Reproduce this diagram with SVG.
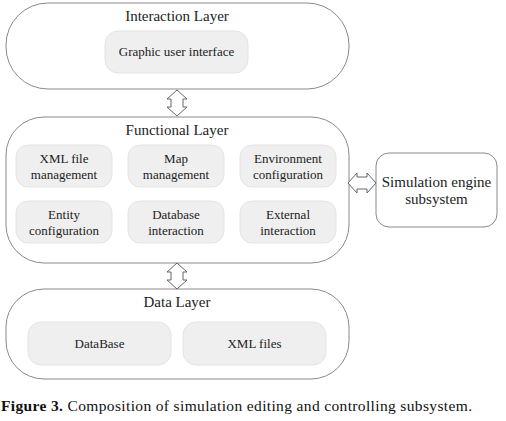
<svg xmlns="http://www.w3.org/2000/svg" width="506" height="421" viewBox="0 0 506 421">
<style>
.layer{fill:#fff;stroke:#8a8a8a;stroke-width:1}
.inner{fill:#efefef;stroke:#e4e4e4;stroke-width:1}
.ext{fill:#fff;stroke:#8a8a8a;stroke-width:1}
.t{font-family:"Liberation Serif","Times New Roman",serif;fill:#222;text-anchor:middle}
.title{font-size:15px}
.lbl{font-size:13px}
.arr{fill:#fff;stroke:#666;stroke-width:1}
.cap{font-family:"Liberation Serif","Times New Roman",serif;font-size:15.5px;fill:#111}
</style>
<rect width="506" height="421" fill="#fff"/>
<g id="interaction-layer">
<rect class="layer" x="6" y="3" width="343" height="86" rx="42" ry="42"/>
<text class="t title" x="177" y="21">Interaction Layer</text>
</g>
<g id="gui">
<rect class="inner" x="105" y="31" width="143" height="42" rx="13"/>
<text class="t lbl" x="176.5" y="56">Graphic user interface</text>
</g>
<g id="functional-layer">
<rect class="layer" x="6" y="117" width="343" height="146" rx="38" ry="38"/>
<text class="t title" x="177" y="135">Functional Layer</text>
</g>
<g id="xml-file-management">
<rect class="inner" x="16" y="145" width="96" height="42" rx="12"/>
<text class="t lbl" x="64" y="163">XML file</text>
<text class="t lbl" x="64" y="179">management</text>
</g>
<g id="map-management">
<rect class="inner" x="128" y="145" width="96" height="42" rx="12"/>
<text class="t lbl" x="176" y="163">Map</text>
<text class="t lbl" x="176" y="179">management</text>
</g>
<g id="environment-configuration">
<rect class="inner" x="240" y="145" width="96" height="42" rx="12"/>
<text class="t lbl" x="288" y="163">Environment</text>
<text class="t lbl" x="288" y="179">configuration</text>
</g>
<g id="entity-configuration">
<rect class="inner" x="16" y="201" width="96" height="42" rx="12"/>
<text class="t lbl" x="64" y="219">Entity</text>
<text class="t lbl" x="64" y="235">configuration</text>
</g>
<g id="database-interaction">
<rect class="inner" x="128" y="201" width="96" height="42" rx="12"/>
<text class="t lbl" x="176" y="219">Database</text>
<text class="t lbl" x="176" y="235">interaction</text>
</g>
<g id="external-interaction">
<rect class="inner" x="240" y="201" width="96" height="42" rx="12"/>
<text class="t lbl" x="288" y="219">External</text>
<text class="t lbl" x="288" y="235">interaction</text>
</g>
<g id="data-layer">
<rect class="layer" x="6" y="289" width="343" height="90" rx="38" ry="38"/>
<text class="t title" x="177" y="307">Data Layer</text>
</g>
<g id="database">
<rect class="inner" x="28" y="322" width="143" height="43" rx="13"/>
<text class="t lbl" x="99.5" y="348">DataBase</text>
</g>
<g id="xml-files">
<rect class="inner" x="183" y="322" width="143" height="43" rx="13"/>
<text class="t lbl" x="254.5" y="348">XML files</text>
</g>
<g id="simulation-engine">
<rect class="ext" x="376" y="153" width="121" height="74" rx="13"/>
<text class="t title" x="436.5" y="187">Simulation engine</text>
<text class="t title" x="436.5" y="204">subsystem</text>
</g>
<g id="connectors">
<polygon class="arr" points="177,90 187,99 183,99 183,107 187,107 177,116 167,107 171,107 171,99 167,99"/>
<polygon class="arr" points="177,263 187,272 183,272 183,280 187,280 177,289 167,280 171,280 171,272 167,272"/>
<polygon class="arr" points="348,183 357,173 357,177 367,177 367,173 376,183 367,193 367,189 357,189 357,193"/>
</g>
<text class="cap" x="1" y="411" textLength="471" lengthAdjust="spacing"><tspan font-weight="bold">Figure 3.</tspan> Composition of simulation editing and controlling subsystem.</text>
</svg>
